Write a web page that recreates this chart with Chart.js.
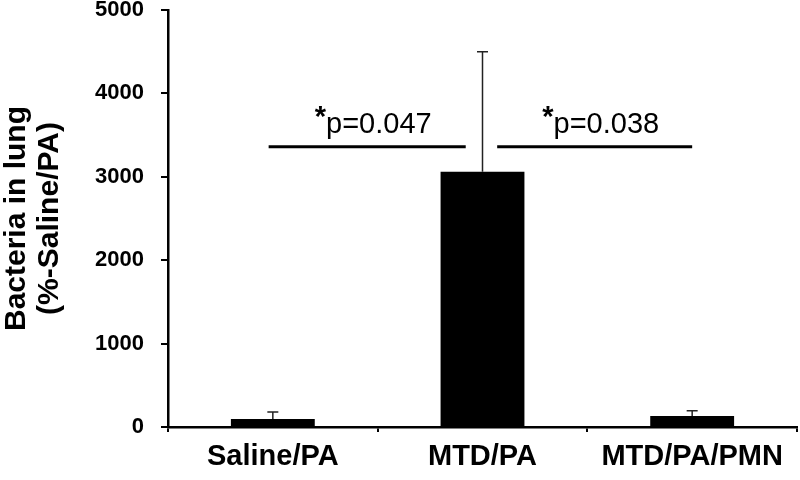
<!DOCTYPE html>
<html>
<head>
<meta charset="utf-8">
<script src="https://cdn.jsdelivr.net/npm/chart.js@4"></script>
<style>
  html, body { margin: 0; padding: 0; background: #fff; }
  #wrap { width: 800px; height: 480px; }
</style>
</head>
<body>
<div id="wrap"><canvas id="bacteriaChart" width="800" height="480"></canvas></div>
<script>
// data
const groups = ['Saline/PA', 'MTD/PA', 'MTD/PA/PMN'];
const means = [96, 3060, 132];
const errTop = [180, 4500, 195];   // upper end of error bar
const yTicks = [0, 1000, 2000, 3000, 4000, 5000];

// significance brackets (category index units, y value)
const sigFrom = [-0.02, 1.07];
const sigTo = [0.92, 2.0];
const sigY = [3360, 3360];
const sigLabel = ['p=0.047', 'p=0.038'];

const FONT = "'Liberation Sans', Arial, sans-serif";

// error bars + p-value brackets
const extrasPlugin = {
  id: 'extras',
  afterDatasetsDraw(chart) {
    const ctx = chart.ctx;
    const x = chart.scales.x, y = chart.scales.y;
    ctx.save();
    // error bars (upper only)
    ctx.strokeStyle = '#222';
    ctx.lineWidth = 1.5;
    means.forEach((m, i) => {
      const px = x.getPixelForValue(i);
      const top = y.getPixelForValue(errTop[i]);
      const base = y.getPixelForValue(m);
      ctx.beginPath();
      ctx.moveTo(px, base);
      ctx.lineTo(px, top);
      ctx.moveTo(px - 5.5, top);
      ctx.lineTo(px + 5.5, top);
      ctx.stroke();
    });
    // brackets
    ctx.strokeStyle = '#000';
    ctx.fillStyle = '#000';
    ctx.lineWidth = 3;
    sigY.forEach((v, i) => {
      const x1 = x.getPixelForValue(sigFrom[i]);
      const x2 = x.getPixelForValue(sigTo[i]);
      const py = y.getPixelForValue(v);
      ctx.beginPath();
      ctx.moveTo(x1, py);
      ctx.lineTo(x2, py);
      ctx.stroke();

      ctx.font = '29px ' + FONT;
      const w = ctx.measureText(sigLabel[i]).width;
      ctx.font = 'bold 29px ' + FONT;
      const sw = ctx.measureText('*').width;
      const cx = (x1 + x2) / 2 + 6;
      const startX = cx - (w + sw) / 2;
      ctx.textBaseline = 'alphabetic';
      ctx.textAlign = 'left';
      ctx.fillText('*', startX, py - 21);
      ctx.font = '29px ' + FONT;
      ctx.fillText(sigLabel[i], startX + sw, py - 14);
    });
    ctx.restore();
  }
};

new Chart(document.getElementById('bacteriaChart'), {
  type: 'bar',
  data: {
    labels: groups,
    datasets: [{
      data: means,
      backgroundColor: '#000',
      borderWidth: 0,
      barPercentage: 0.4,
      categoryPercentage: 1.0
    }]
  },
  options: {
    responsive: false,
    animation: false,
    devicePixelRatio: 1,
    layout: { padding: { top: 10, right: 3, left: 0, bottom: 0 } },
    plugins: {
      legend: { display: false },
      tooltip: { enabled: false }
    },
    scales: {
      x: {
        offset: true,
        grid: { offset: true, drawOnChartArea: false, drawTicks: true, tickLength: 5, color: '#000', lineWidth: 2 },
        border: { display: true, color: '#000', width: 2.5 },
        ticks: { color: '#000', padding: 8, font: { family: FONT, size: 29, weight: 'bold' } },
        afterFit(s) { s.height = 53; }
      },
      y: {
        min: 0,
        max: 5000,
        afterBuildTicks(s) { s.ticks = yTicks.map(v => ({ value: v })); },
        grid: { drawOnChartArea: false, drawTicks: true, tickLength: 7, color: '#000', lineWidth: 2 },
        border: { display: true, color: '#000', width: 2.5 },
        ticks: {
          color: '#000',
          padding: 17,
          font: { family: FONT, size: 22, weight: 'bold' },
          callback: v => String(v)
        },
        title: {
          display: true,
          text: ['Bacteria in lung', '(%-Saline/PA)'],
          color: '#000',
          font: { family: FONT, size: 30, weight: 'bold', lineHeight: 1.1 },
          padding: { top: 0, bottom: 0 }
        },
        afterFit(s) {
          s.width = 168;
          s.paddingTop = 10;
          s.paddingBottom = 0;
        }
      }
    }
  },
  plugins: [extrasPlugin]
});
</script>
</body>
</html>
